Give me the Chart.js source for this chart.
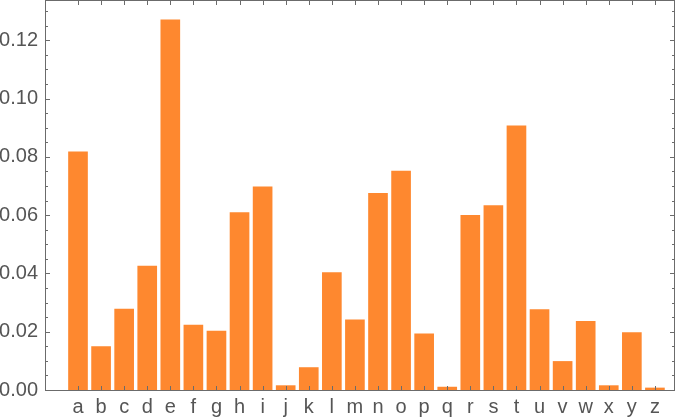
<!DOCTYPE html>
<html>
<head>
<meta charset="utf-8">
<script src="https://cdn.jsdelivr.net/npm/chart.js@4/dist/chart.umd.min.js"></script>
<style>
  html, body { margin: 0; padding: 0; background: #fff; }
  #wrap { width: 676px; height: 420px; }
</style>
</head>
<body>
<div id="wrap"><canvas id="freq_chart"></canvas></div>
<script>
var letters = ["a","b","c","d","e","f","g","h","i","j","k","l","m",
               "n","o","p","q","r","s","t","u","v","w","x","y","z"];
var frequency = [0.0817, 0.0149, 0.0278, 0.0425, 0.1270, 0.0223, 0.0202, 0.0609, 0.0697,
                 0.0015, 0.0077, 0.0403, 0.0241, 0.0675, 0.0751, 0.0193, 0.0010, 0.0599,
                 0.0633, 0.0906, 0.0276, 0.0098, 0.0236, 0.0015, 0.0197, 0.0007];
var yTicks = [0, 0.02, 0.04, 0.06, 0.08, 0.10, 0.12];
var yMinorStep = 0.005;

var frameColor = "#6b6b6b";
var textColor = "#555555";
var barColor = "#fe882f";

function noPad(scale) {
  scale.paddingTop = 0;
  scale.paddingBottom = 0;
  scale.paddingLeft = 0;
  scale.paddingRight = 0;
}

// frame with inward ticks on all four sides, the way Mathematica draws it
var framePlugin = {
  id: "frame",
  afterDraw: function (chart) {
    var ctx = chart.ctx;
    var area = chart.chartArea;
    var xs = chart.scales.x;
    var ys = chart.scales.y;
    ctx.save();
    ctx.strokeStyle = frameColor;
    ctx.lineWidth = 1;
    ctx.strokeRect(area.left + 0.5, area.top + 0.5, area.right - area.left - 1, area.bottom - area.top);
    ctx.beginPath();
    for (var v = 0; v <= ys.max + 1e-9; v += yMinorStep) {
      var y = Math.round(ys.getPixelForValue(v)) + 0.5;
      var major = Math.abs(v / 0.02 - Math.round(v / 0.02)) < 1e-6;
      var len = major ? 5 : 3;
      ctx.moveTo(area.left, y);
      ctx.lineTo(area.left + len, y);
      ctx.moveTo(area.right, y);
      ctx.lineTo(area.right - len, y);
    }
    for (var i = 1; i <= letters.length; i++) {
      var x = Math.round(xs.getPixelForValue(i)) + 0.5;
      ctx.moveTo(x, area.bottom);
      ctx.lineTo(x, area.bottom - 4);
      ctx.moveTo(x, area.top);
      ctx.lineTo(x, area.top + 5);
    }
    ctx.stroke();
    ctx.restore();
  }
};

var points = frequency.map(function (v, i) { return { x: i + 1, y: v }; });

var ctx = document.getElementById("freq_chart").getContext("2d");
var myChart = new Chart(ctx, {
  type: "bar",
  data: {
    datasets: [
      {
        data: points,
        backgroundColor: barColor,
        borderWidth: 0,
        barThickness: 19,
      },
    ],
  },
  options: {
    responsive: true,
    maintainAspectRatio: false,
    animation: false,
    layout: { padding: { top: 0, right: 1, bottom: 0, left: 0 } },
    plugins: {
      legend: { display: false },
      tooltip: { enabled: false },
    },
    scales: {
      x: {
        type: "linear",
        offset: false,
        min: -0.43,
        max: 26.87,
        grid: { display: false, drawTicks: false },
        border: { display: false },
        afterBuildTicks: function (scale) {
          scale.ticks = letters.map(function (l, i) { return { value: i + 1 }; });
        },
        afterFit: function (scale) { scale.height = 30; noPad(scale); },
        ticks: {
          autoSkip: false,
          maxRotation: 0,
          padding: 5,
          color: textColor,
          font: { family: "Liberation Sans", size: 20 },
          callback: function (v) { return letters[v - 1]; },
        },
      },
      y: {
        min: 0,
        max: 0.1338,
        grid: { display: false, drawTicks: false },
        border: { display: false },
        afterBuildTicks: function (scale) {
          scale.ticks = yTicks.map(function (v) { return { value: v }; });
        },
        afterFit: function (scale) { scale.width = 45; noPad(scale); },
        ticks: {
          padding: 7,
          color: textColor,
          font: { family: "Liberation Sans", size: 20 },
          callback: function (v) { return v.toFixed(2); },
        },
      },
    },
  },
  plugins: [framePlugin],
});
</script>
</body>
</html>
